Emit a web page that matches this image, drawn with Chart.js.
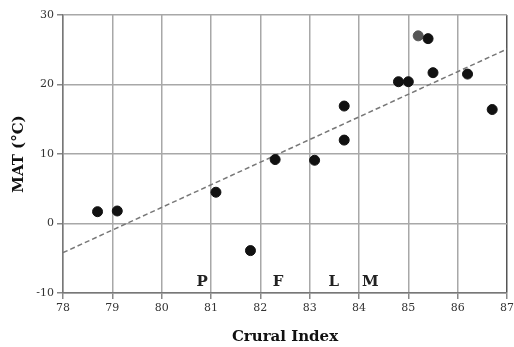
<!DOCTYPE html>
<html lang="en">
<head>
    <meta charset="UTF-8">
    <title>MAT vs Crural Index</title>
    <script src="https://cdn.jsdelivr.net/npm/chart.js"></script>
    <style>
        html, body { margin: 0; padding: 0; background: #fff; }
        #wrap { width: 514px; height: 347px; }
    </style>
</head>
<body>
    <div id="wrap"><canvas id="chart" width="514" height="347"></canvas></div>

    <script>
        // Data
        const cruralIndex = [78.7, 79.1, 81.1, 81.8, 82.3, 83.1, 83.7, 83.7, 84.8, 85.0, 85.2, 85.4, 85.5, 86.2, 86.7];
        const mat = [1.7, 1.8, 4.5, -3.9, 9.2, 9.1, 12.0, 16.9, 20.4, 20.4, 27.0, 26.6, 21.7, 21.5, 16.4];
        const pointColors = ["#111", "#111", "#111", "#111", "#111", "#111", "#111", "#111", "#111", "#111", "#555", "#111", "#111", "#111", "#111"];

        // Regression line end points
        const fitX = [78, 87];
        const fitY = [-4.2, 25.1];

        // Letters along the bottom
        const letters = ["P", "F", "L", "M"];
        const letterX = [80.82, 82.36, 83.49, 84.23];
        const letterY = -8.5;

        const serif = "'DejaVu Serif', serif";

        const letterPlugin = {
            id: "letters",
            afterDatasetsDraw(chart) {
                const ctx = chart.ctx;
                const xs = chart.scales.x, ys = chart.scales.y;
                ctx.save();
                ctx.font = "bold 15px " + serif;
                ctx.fillStyle = "#222";
                ctx.textAlign = "center";
                ctx.textBaseline = "middle";
                letters.forEach((t, i) => {
                    ctx.fillText(t, xs.getPixelForValue(letterX[i]), ys.getPixelForValue(letterY));
                });
                ctx.restore();
            }
        };

        new Chart(document.getElementById("chart"), {
            type: "scatter",
            data: {
                datasets: [
                    {
                        label: "sites",
                        data: cruralIndex.map((x, i) => ({ x: x, y: mat[i] })),
                        backgroundColor: pointColors,
                        borderColor: pointColors,
                        pointRadius: 5,
                        order: 1
                    },
                    {
                        label: "fit",
                        type: "line",
                        data: fitX.map((x, i) => ({ x: x, y: fitY[i] })),
                        borderColor: "#777",
                        borderWidth: 1.5,
                        borderDash: [5, 3],
                        pointRadius: 0,
                        fill: false,
                        order: 2
                    }
                ]
            },
            options: {
                responsive: false,
                animation: false,
                layout: { padding: { left: 0, right: 7, top: 15, bottom: 0 } },
                plugins: {
                    legend: { display: false },
                    tooltip: { enabled: false }
                },
                scales: {
                    x: {
                        type: "linear",
                        min: 78,
                        max: 87,
                        ticks: {
                            stepSize: 1,
                            color: "#333",
                            font: { family: serif, size: 11 },
                            padding: 3
                        },
                        grid: {
                            color: (c) => (c.tick && c.tick.value === 87 ? "#555" : "#a8a8a8"),
                            lineWidth: 1.5,
                            tickLength: 6,
                            tickColor: "#888"
                        },
                        border: { color: "#777", width: 1.5 },
                        title: {
                            display: true,
                            text: "Crural Index",
                            color: "#111",
                            font: { family: serif, size: 15, weight: "bold" },
                            padding: { top: 4, bottom: 1 }
                        },
                        afterFit: (s) => {
                            s.height = 54;
                            s.paddingLeft = 0;
                            s.paddingRight = 0;
                        }
                    },
                    y: {
                        min: -10,
                        max: 30,
                        ticks: {
                            stepSize: 10,
                            color: "#333",
                            font: { family: serif, size: 11 },
                            padding: 3
                        },
                        grid: { color: "#a8a8a8", lineWidth: 1.5, tickLength: 6, tickColor: "#888" },
                        border: { color: "#777", width: 1.5 },
                        title: {
                            display: true,
                            text: "MAT (°C)",
                            color: "#111",
                            font: { family: serif, size: 15, weight: "bold" },
                            padding: { top: 10, bottom: 0 }
                        },
                        afterFit: (s) => {
                            s.width = 63;
                            s.paddingTop = 0;
                            s.paddingBottom = 0;
                        }
                    }
                }
            },
            plugins: [letterPlugin]
        });
    </script>
</body>
</html>
